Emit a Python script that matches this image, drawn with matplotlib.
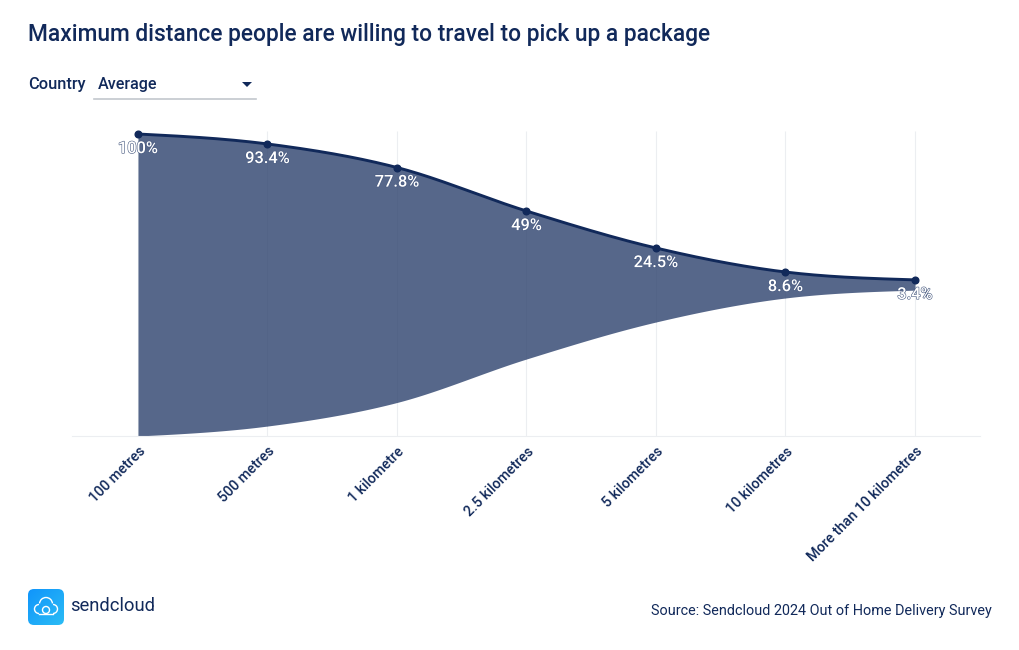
import numpy as np
import matplotlib
matplotlib.use("Agg")
import matplotlib.pyplot as plt
import matplotlib.patheffects as pe
from matplotlib.patches import FancyBboxPatch, Polygon, Arc

categories = ["100 metres", "500 metres", "1 kilometre", "2.5 kilometres",
              "5 kilometres", "10 kilometres", "More than 10 kilometres"]
values = [100, 93.4, 77.8, 49, 24.5, 8.6, 3.4]
value_labels = ["100%", "93.4%", "77.8%", "49%", "24.5%", "8.6%", "3.4%"]
title = "Maximum distance people are willing to travel to pick up a package"
source = "Source: Sendcloud 2024 Out of Home Delivery Survey"

NAVY = "#11295a"
FILL = "#56678a"
FONT = "Roboto"
W, H = 1020, 650
plt.rcParams["font.family"] = [FONT, "DejaVu Sans"]


def monotone(x, y, n=60):
    """Monotone cubic through the points (the curve style of the chart)."""
    x, y = np.asarray(x, float), np.asarray(y, float)
    h = np.diff(x)
    s = np.diff(y) / h
    t = np.zeros_like(y)
    for i in range(1, len(y) - 1):
        if s[i - 1] * s[i] > 0:
            p = (s[i - 1] * h[i] + s[i] * h[i - 1]) / (h[i - 1] + h[i])
            t[i] = (np.sign(s[i - 1]) + np.sign(s[i])) * min(abs(s[i - 1]), abs(s[i]), 0.5 * abs(p))
    t[0] = (3 * s[0] - t[1]) / 2
    t[-1] = (3 * s[-1] - t[-2]) / 2
    xs, ys = [], []
    for i in range(len(h)):
        u = np.linspace(0, 1, n)
        a = (1 - u) ** 2 * (1 + 2 * u)
        b = u * (1 - u) ** 2
        c = u ** 2 * (3 - 2 * u)
        d = u ** 2 * (u - 1)
        xs.append(x[i] + u * h[i])
        ys.append(a * y[i] + b * h[i] * t[i] + c * y[i + 1] + d * h[i] * t[i + 1])
    return np.concatenate(xs), np.concatenate(ys)


fig = plt.figure(figsize=(W / 100, H / 100), dpi=100, facecolor="white")

# Chart axes, placed in pixels
left, right, top, bottom = 72, 980, 131, 436
ax = fig.add_axes([left / W, 1 - bottom / H, (right - left) / W, (bottom - top) / H])
x0, step = 138, 129.5
ax.set_xlim((left - x0) / step, (right - x0) / step)
k = 151 / 100
ax.set_ylim(-100, (285 - top) / k)
ax.patch.set_alpha(0)

x = np.arange(len(values))
sx, sy = monotone(x, values)
ax.vlines(x, -100, (285 - top) / k, color="#eceef1", lw=0.8, zorder=1)
ax.fill_between(sx, -sy, sy, color=FILL, lw=0, zorder=2)
ax.vlines(x[1:-1], -np.array(values[1:-1]), values[1:-1], color="#4a5b80", lw=0.6, alpha=0.25, zorder=2.5)
ax.plot(sx, sy, color=NAVY, lw=2.1, zorder=3, solid_capstyle="round")
ax.plot(x, values, "o", color=NAVY, ms=4.8, zorder=4, clip_on=False)

for s in ["top", "left", "right"]:
    ax.spines[s].set_visible(False)
ax.spines["bottom"].set_color("#eceef1")
ax.spines["bottom"].set_linewidth(0.8)
ax.set_yticks([])
ax.set_xticks(x)
ax.tick_params(axis="x", length=0, pad=6)
ax.set_xticklabels(categories, rotation=45, ha="right", va="top", rotation_mode="anchor",
                   fontsize=10.3, color=NAVY, fontweight="medium")

for xi, v, lab in zip(x, values, value_labels):
    ax.annotate(lab, (xi, v), xytext=(0, -14.6 * 0.72), textcoords="offset points", ha="center", va="center",
                fontsize=11.8, color="white", zorder=6, fontweight="medium",
                path_effects=[pe.withStroke(linewidth=0.8, foreground="#45587f")])

# Page furniture in pixel coordinates
ov = fig.add_axes([0, 0, 1, 1], zorder=10)
ov.set_xlim(0, W)
ov.set_ylim(H, 0)
ov.axis("off")
ov.patch.set_alpha(0)

ov.text(28, 34.5, title, fontsize=16.35, color=NAVY, va="center", ha="left", fontweight="medium")
ov.text(28, 84, "Country", fontsize=11.8, color=NAVY, va="center", ha="left", fontweight="medium")
ov.text(98, 85, "Average", fontsize=11.6, color=NAVY, va="center", ha="left", fontweight="medium")
ov.plot([94, 256], [99, 99], color="#c2c7cd", lw=1.2)
ov.add_patch(Polygon([[242, 82], [252, 82], [247, 87]], closed=True, fc=NAVY, ec="none"))
ov.text(992, 610.5, source, fontsize=10.4, color=NAVY, va="center", ha="right")
ov.text(70, 606, "sendcloud", fontsize=13.2, color=NAVY, va="center", ha="left")

# Logo
grad = np.linspace(0, 1, 64)[None, :] * 0.5 + np.linspace(0, 1, 64)[:, None] * 0.5
cmap = matplotlib.colors.LinearSegmentedColormap.from_list("logo", ["#2bbcf5", "#1095fb"])
im = ov.imshow(grad[::-1, ::-1], extent=(28, 64, 625, 589), cmap=cmap, zorder=1, aspect="auto")
box = FancyBboxPatch((28, 589), 36, 36, boxstyle="round,pad=0,rounding_size=6", fc="none", ec="none")
ov.add_patch(box)
im.set_clip_path(box)
ov.set_xlim(0, W)
ov.set_ylim(H, 0)
for (cx, cy, w, t1, t2) in [(39, 609, 9, 90, 270), (46, 604, 13, 185, 355), (53, 609, 9, 270, 90), (46, 610, 7, 0, 360)]:
    ov.add_patch(Arc((cx, cy), w, w, theta1=t1, theta2=t2, ec="white", lw=1.0, zorder=3))
ov.plot([39, 53], [613.5, 613.5], color="white", lw=1.0, zorder=3)

fig.savefig("out.png", dpi=100, facecolor="white")
